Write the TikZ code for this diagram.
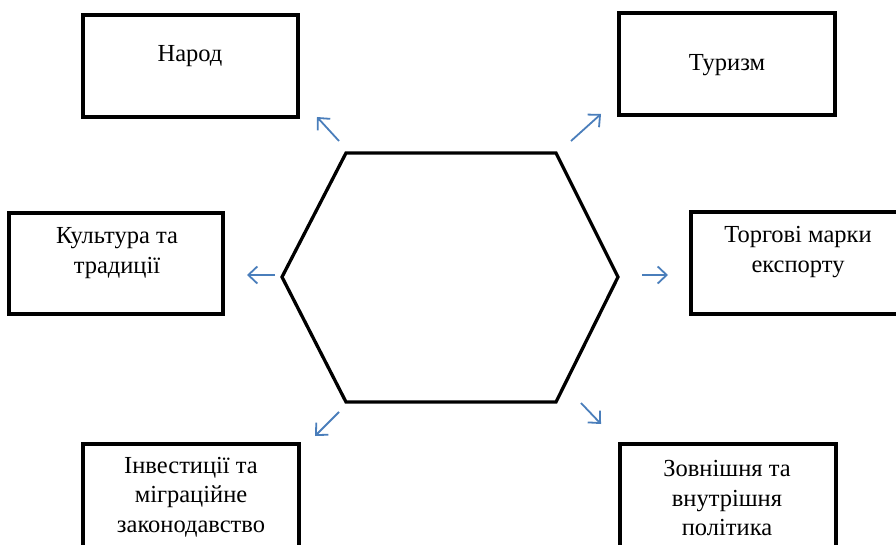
\documentclass[tikz,border=0pt]{standalone}
\usepackage{fontspec}
\setmainfont{Liberation Serif}
\usetikzlibrary{arrows.meta}
\definecolor{arrblue}{HTML}{4A7EBB}
\tikzset{
  boxframe/.style={draw=black, line width=3.3pt, line join=miter},
  lbl/.style={font=\fontsize{24.5}{29.5}\selectfont, align=center, inner sep=0pt, anchor=center},
  arr/.style={draw=arrblue, line width=1.8pt, -{Straight Barb[length=9pt,width=17pt,line width=1.8pt]}},
  hexframe/.style={draw=black, line width=3.3pt, line join=miter}
}
\begin{document}
\begin{tikzpicture}[x=1pt,y=-1pt]
\useasboundingbox (0,0) rectangle (896,545);
\clip (0,0) rectangle (896,545);
% boxes
\draw[boxframe] (83,15) rectangle (298,117);
\draw[boxframe] (619,13) rectangle (835,115);
\draw[boxframe] (9,213) rectangle (223,314);
\draw[boxframe] (691,212) rectangle (905,314);
\draw[boxframe] (83,444) rectangle (299,560);
\draw[boxframe] (620,444) rectangle (836,560);
% texts
\node[lbl] (tNarod) at (190,56) {Народ};
\node[lbl] (tTur) at (727,65) {Туризм};
\node[lbl] (tKult) at (117,253) {Культура та\\традиції};
\node[lbl] (tTorg) at (798,252) {Торгові марки\\експорту};
\node[lbl] (tInv) at (191,497) {Інвестиції та\\міграційне\\законодавство};
\node[lbl] (tZov) at (727,498) {Зовнішня та\\внутрішня\\політика};
% hexagon
\coordinate (h1) at (346,153);
\coordinate (h2) at (556,153);
\coordinate (h3) at (618,277);
\coordinate (h4) at (556,402);
\coordinate (h5) at (346,402);
\coordinate (h6) at (282,277);
\draw[hexframe] (h1) -- (h2) -- (h3) -- (h4) -- (h5) -- (h6) -- cycle;
% arrows
\coordinate (a1s) at (339,141); \coordinate (a1e) at (317,117);
\coordinate (a2s) at (571,141); \coordinate (a2e) at (601,114);
\coordinate (a3s) at (275,275); \coordinate (a3e) at (247,275);
\coordinate (a4s) at (642,275); \coordinate (a4e) at (668,275);
\coordinate (a5s) at (339,412); \coordinate (a5e) at (315,436);
\coordinate (a6s) at (581,403); \coordinate (a6e) at (601,424);
\draw[arr] (a1s) -- (a1e);
\draw[arr] (a2s) -- (a2e);
\draw[arr] (a3s) -- (a3e);
\draw[arr] (a4s) -- (a4e);
\draw[arr] (a5s) -- (a5e);
\draw[arr] (a6s) -- (a6e);
\end{tikzpicture}
\end{document}
